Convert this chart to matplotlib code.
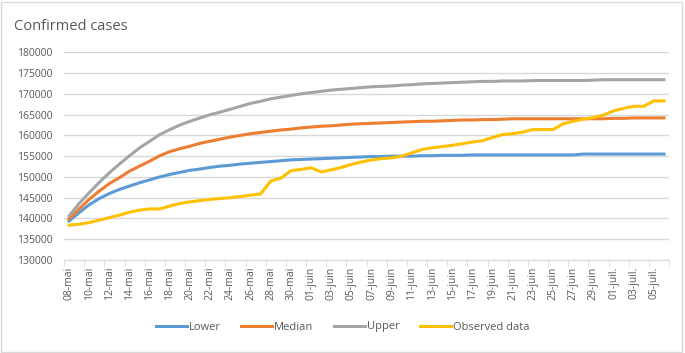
import numpy as np
import matplotlib.pyplot as plt
from matplotlib.patches import Rectangle

############### DONNEES ###############

# une valeur par jour, du 08-mai au 06-juil. (60 jours)
jours = ['08-mai', '09-mai', '10-mai', '11-mai', '12-mai', '13-mai', '14-mai', '15-mai',
         '16-mai', '17-mai', '18-mai', '19-mai', '20-mai', '21-mai', '22-mai', '23-mai',
         '24-mai', '25-mai', '26-mai', '27-mai', '28-mai', '29-mai', '30-mai', '31-mai',
         '01-juin', '02-juin', '03-juin', '04-juin', '05-juin', '06-juin', '07-juin', '08-juin',
         '09-juin', '10-juin', '11-juin', '12-juin', '13-juin', '14-juin', '15-juin', '16-juin',
         '17-juin', '18-juin', '19-juin', '20-juin', '21-juin', '22-juin', '23-juin', '24-juin',
         '25-juin', '26-juin', '27-juin', '28-juin', '29-juin', '30-juin', '01-juil.', '02-juil.',
         '03-juil.', '04-juil.', '05-juil.', '06-juil.']

lower = [139400, 141400, 143300, 144800, 146000, 147000, 147800, 148600, 149300, 150000,
         150600, 151100, 151600, 151900, 152300, 152600, 152800, 153100, 153300, 153500,
         153700, 153900, 154100, 154200, 154300, 154400, 154500, 154600, 154700, 154800,
         154900, 154900, 155000, 155000, 155000, 155100, 155100, 155200, 155200, 155200,
         155300, 155300, 155300, 155300, 155300, 155300, 155300, 155300, 155300, 155300,
         155300, 155500, 155500, 155500, 155500, 155500, 155500, 155500, 155500, 155500]

median = [139900, 142300, 144600, 146600, 148400, 149800, 151400, 152600, 153800, 155100,
          156100, 156800, 157400, 158100, 158600, 159100, 159600, 160000, 160400, 160700,
          161000, 161300, 161500, 161800, 162000, 162200, 162300, 162500, 162700, 162800,
          162900, 163000, 163100, 163200, 163300, 163400, 163400, 163500, 163600, 163700,
          163700, 163800, 163800, 163900, 164000, 164000, 164000, 164000, 164000, 164000,
          164000, 164000, 164000, 164000, 164100, 164100, 164200, 164200, 164200, 164200]

upper = [140600, 143600, 146200, 148700, 151000, 153100, 155100, 157000, 158600, 160200,
         161400, 162500, 163400, 164200, 165000, 165600, 166300, 167000, 167700, 168200,
         168800, 169200, 169600, 170000, 170300, 170600, 170900, 171100, 171300, 171500,
         171700, 171800, 171900, 172100, 172200, 172400, 172500, 172600, 172700, 172800,
         172900, 173000, 173000, 173100, 173100, 173100, 173200, 173200, 173200, 173200,
         173200, 173200, 173300, 173400, 173400, 173400, 173400, 173400, 173400, 173400]

observed = [138400, 138600, 139000, 139600, 140200, 140800, 141500, 142000, 142300, 142300,
            143000, 143600, 144000, 144300, 144600, 144800, 145000, 145300, 145600, 145900,
            149000, 149700, 151500, 151800, 152200, 151200, 151700, 152300, 153000, 153600,
            154100, 154400, 154600, 155000, 155800, 156600, 157000, 157300, 157600, 158000,
            158400, 158700, 159500, 160200, 160400, 160800, 161400, 161400, 161400, 162800,
            163400, 163900, 164300, 164900, 165900, 166500, 167000, 167000, 168300, 168300]

############### GRAPHIQUE ###############

plt.rcParams['font.family'] = ['Open Sans', 'DejaVu Sans']
gris_texte = '#595959'
gris_grille = '#d9d9d9'

fig = plt.figure(figsize=(6.85, 3.53), dpi=100)
ax = fig.add_axes([64 / 685, 1 - 260 / 353, 605 / 685, (260 - 52.3) / 353])

x = np.arange(len(jours))
ax.plot(x, lower, color='#5B9BD5', lw=2.2, label='Lower')
ax.plot(x, median, color='#ED7D31', lw=2.2, label='Median')
ax.plot(x, upper, color='#A5A5A5', lw=2.2, label='Upper')
ax.plot(x, observed, color='#FFC000', lw=2.2, label='Observed data')

# axes et grille facon Excel
ax.set_xlim(-0.5, len(jours) - 0.5)
ax.set_ylim(130000, 180000)
ax.set_yticks(np.arange(130000, 180001, 5000))
ax.grid(axis='y', color=gris_grille, lw=1)
ax.set_axisbelow(True)
for s in ['left', 'right', 'top']:
    ax.spines[s].set_visible(False)
ax.spines['bottom'].set_color(gris_grille)

ax.set_xticks(x[::2])
ax.set_xticklabels(jours[::2], rotation=90)
ax.set_xticks(np.arange(-0.5, len(jours), 2), minor=True)
ax.tick_params(axis='x', which='major', length=0, pad=5, labelsize=7.5, labelcolor=gris_texte)
ax.tick_params(axis='x', which='minor', length=4, color=gris_grille)
ax.tick_params(axis='y', length=0, pad=8, labelsize=7.5, labelcolor=gris_texte)

fig.text(14 / 685, 1 - 26 / 353, 'Confirmed cases', fontsize=10.5, color=gris_texte, va='center')

leg = fig.legend(loc='center', bbox_to_anchor=(0.5, 1 - 327 / 353), ncol=4, frameon=False,
                 fontsize=8, handlelength=2.8, handletextpad=0.2, columnspacing=1.8)
for t in leg.get_texts():
    t.set_color(gris_texte)

# bordure du graphique
fig.patches.append(Rectangle((1 / 685, 1 / 353), 681 / 685, 350 / 353, transform=fig.transFigure,
                             fill=False, edgecolor=gris_grille, lw=1))

plt.savefig('out.png', dpi=100)
